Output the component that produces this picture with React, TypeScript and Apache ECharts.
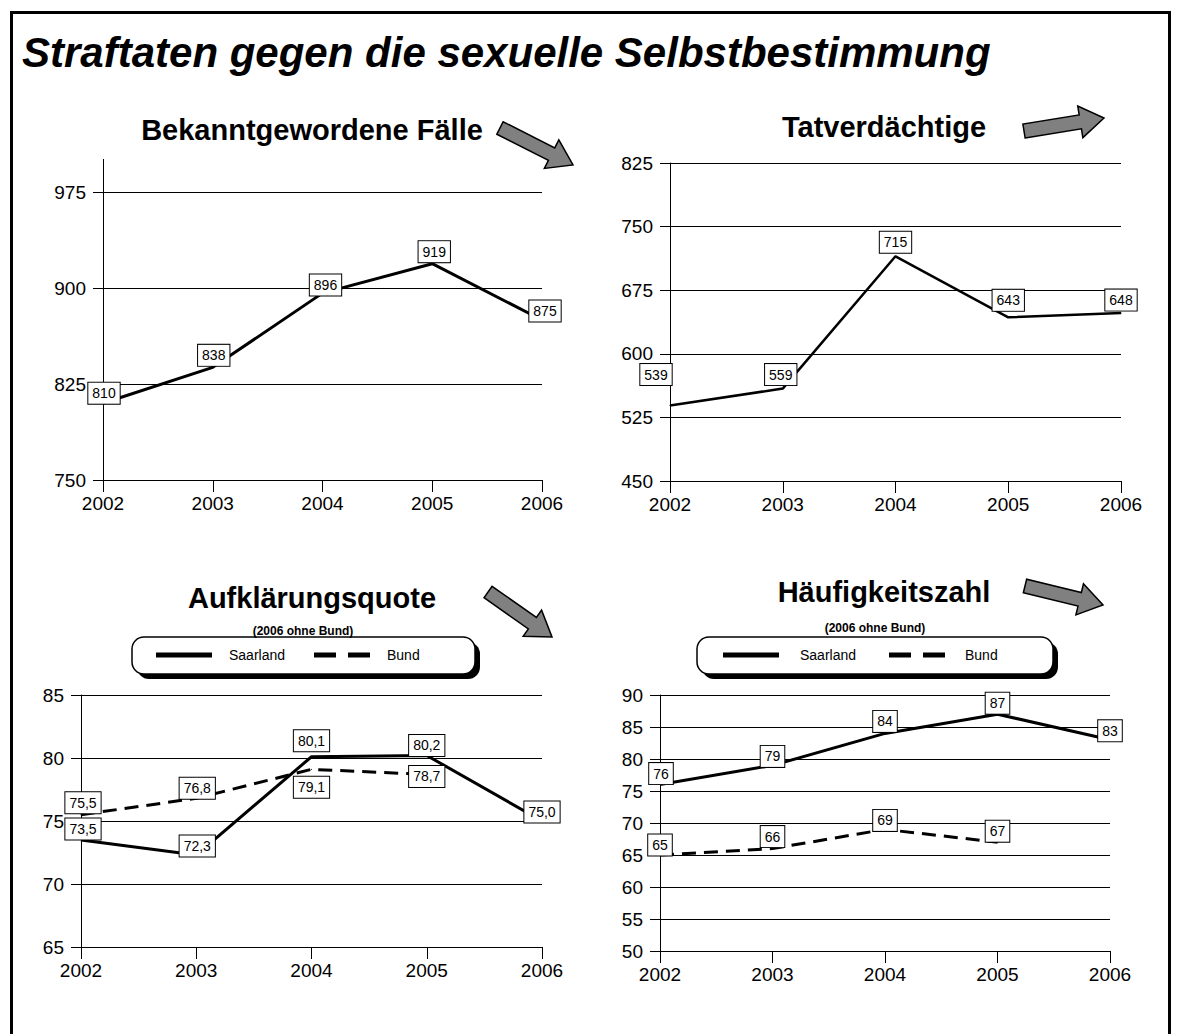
import React, { useEffect, useRef } from 'react';
import * as echarts from 'echarts';

// ---------- data ----------
const years = ['2002', '2003', '2004', '2005', '2006'];

const faelle = [810, 838, 896, 919, 875];
const faelleTicks = [750, 825, 900, 975];

const tatverdaechtige = [539, 559, 715, 643, 648];
const tatTicks = [450, 525, 600, 675, 750, 825];

const aufklSaarland = [73.5, 72.3, 80.1, 80.2, 75.0];
const aufklBund = [75.5, 76.8, 79.1, 78.7, null];
const aufklTicks = [65, 70, 75, 80, 85];

const hzSaarland = [76, 79, 84, 87, 83];
const hzBund = [65, 66, 69, 67, null];
const hzTicks = [50, 55, 60, 65, 70, 75, 80, 85, 90];

// ---------- label offsets (positions only) ----------
const offFaelle = [[1, -10], [1, -12], [3, -8], [2, -12], [3, -9]];
const offTat = [[-14, -31], [-2, -14], [0, -14], [0, -17], [0, -13]];
const offAufS = [[2, -11], [1, -9], [0, -16], [0, -10], [0, -9]];
const offAufB = [[2, -12], [1, -10], [0, 18], [0, 2], [0, 0]];
const offHzS = [[1, -11], [0, -9], [0, -12], [0, -11], [0, -9]];
const offHzB = [[0, -10], [0, -12], [0, -9], [0, -11], [0, 0]];

const FONT = 'Liberation Sans, Arial, sans-serif';

function arrowPts(tx: number, ty: number, hx: number, hy: number, sw = 7, hw = 16, hl = 24) {
  const dx = hx - tx, dy = hy - ty;
  const L = Math.hypot(dx, dy);
  const ux = dx / L, uy = dy / L;
  const nx = -uy, ny = ux;
  const bx = hx - ux * hl, by = hy - uy * hl;
  return [
    [tx + nx * sw, ty + ny * sw],
    [bx + nx * sw, by + ny * sw],
    [bx + nx * hw, by + ny * hw],
    [hx, hy],
    [bx - nx * hw, by - ny * hw],
    [bx - nx * sw, by - ny * sw],
    [tx - nx * sw, ty - ny * sw],
  ];
}

function arrow(tx: number, ty: number, hx: number, hy: number) {
  return {
    type: 'polygon',
    shape: { points: arrowPts(tx, ty, hx, hy) },
    style: { fill: '#808080', stroke: '#000', lineWidth: 1.5 },
    z: 10,
  };
}

function legendBox(x: number, y: number, w: number, h: number, items: any) {
  return [
    { type: 'rect', shape: { x: x + 5, y: y + 5, width: w, height: h, r: 12 }, style: { fill: '#000' }, z: 10 },
    { type: 'rect', shape: { x, y, width: w, height: h, r: 12 }, style: { fill: '#fff', stroke: '#000', lineWidth: 1.5 }, z: 11 },
    ...items,
  ];
}

function legendItems(cy: number, sx: number, tx: number, dx: number, btx: number) {
  return [
    { type: 'line', shape: { x1: sx, y1: cy, x2: sx + 56, y2: cy }, style: { stroke: '#000', lineWidth: 5 }, z: 12 },
    { type: 'text', x: tx, y: cy, style: { text: 'Saarland', fontSize: 14, fontFamily: FONT, fill: '#000', verticalAlign: 'middle' }, z: 12 },
    { type: 'line', shape: { x1: dx, y1: cy, x2: dx + 56, y2: cy }, style: { stroke: '#000', lineWidth: 5, lineDash: [22, 12] }, z: 12 },
    { type: 'text', x: btx, y: cy, style: { text: 'Bund', fontSize: 14, fontFamily: FONT, fill: '#000', verticalAlign: 'middle' }, z: 12 },
  ];
}

function title(text: string, cx: number, cy: number) {
  return {
    type: 'text', x: cx, y: cy,
    style: { text, fontSize: 29, fontWeight: 'bold', fontFamily: FONT, fill: '#000', align: 'center', verticalAlign: 'middle' },
    z: 10,
  };
}

function xAxis(gi: number) {
  return {
    type: 'category', gridIndex: gi, data: years, boundaryGap: false,
    axisLine: { show: true, lineStyle: { color: '#000', width: 1 } },
    axisTick: { show: true, length: 12, lineStyle: { color: '#000' } },
    axisLabel: { color: '#000', fontSize: 19, fontFamily: FONT, margin: 14, interval: 0 },
    splitLine: { show: false },
  };
}

function yAxis(gi: number, ticks: number[]) {
  return {
    type: 'value', gridIndex: gi,
    min: ticks[0], max: ticks[ticks.length - 1], interval: ticks[1] - ticks[0],
    axisLine: { show: true, lineStyle: { color: '#000', width: 1 } },
    axisTick: { show: true, length: 10, lineStyle: { color: '#000' } },
    axisLabel: { color: '#000', fontSize: 19, fontFamily: FONT, margin: 17 },
    splitLine: { show: true, lineStyle: { color: '#000', width: 1 } },
  };
}

function series(name: string, gi: number, values: (number | null)[], offsets: number[][], dashed: boolean, width: number, decimals: number) {
  return {
    type: 'line', name, xAxisIndex: gi, yAxisIndex: gi,
    data: values.map((v, i) => (v == null ? null : { value: v, label: { offset: offsets[i] } })),
    symbol: 'circle', symbolSize: 1, showSymbol: true,
    itemStyle: { color: '#000' },
    lineStyle: { color: '#000', width, type: dashed ? [14, 8] : 'solid' },
    connectNulls: false,
    label: {
      show: true, position: 'inside', color: '#000', fontSize: 14, fontFamily: FONT,
      backgroundColor: '#fff', borderColor: '#000', borderWidth: 1, padding: [4, 4, 3, 4],
      formatter: (p: any) => (decimals > 0 ? Number(p.value).toFixed(decimals).replace('.', ',') : String(p.value)),
    },
    z: 5,
  };
}

export default function App() {
  const ref = useRef<HTMLDivElement>(null);
  useEffect(() => {
    if (!ref.current) return;
    const chart = echarts.init(ref.current, null, { renderer: 'svg' });
    const grids = [
      { left: 103, top: 192, width: 439, height: 288 },
      { left: 670, top: 163, width: 451, height: 318 },
      { left: 81, top: 695, width: 461, height: 252 },
      { left: 660, top: 695, width: 450, height: 256 },
    ];
    chart.setOption({
      animation: false,
      backgroundColor: '#fff',
      textStyle: { fontFamily: FONT },
      grid: grids.map((g) => ({ ...g, containLabel: false })),
      xAxis: [xAxis(0), xAxis(1), xAxis(2), xAxis(3)],
      yAxis: [yAxis(0, faelleTicks), yAxis(1, tatTicks), yAxis(2, aufklTicks), yAxis(3, hzTicks)],
      series: [
        series('Bekanntgewordene Fälle', 0, faelle, offFaelle, false, 3, 0),
        series('Tatverdächtige', 1, tatverdaechtige, offTat, false, 2.5, 0),
        series('Saarland', 2, aufklSaarland, offAufS, false, 3, 1),
        series('Bund', 2, aufklBund, offAufB, true, 3, 1),
        series('Saarland', 3, hzSaarland, offHzS, false, 3, 0),
        series('Bund', 3, hzBund, offHzB, true, 3, 0),
      ],
      graphic: [
        { type: 'rect', shape: { x: 11.5, y: 12.5, width: 1158, height: 1040 }, style: { fill: 'none', stroke: '#000', lineWidth: 3 }, z: 20 },
        {
          type: 'text', x: 22, y: 52,
          style: { text: 'Straftaten gegen die sexuelle Selbstbestimmung', fontSize: 42, fontWeight: 'bold', fontStyle: 'italic', fontFamily: FONT, fill: '#000', verticalAlign: 'middle' },
          z: 10,
        },
        // chart 1 axis line extension above top gridline
        { type: 'line', shape: { x1: 103.5, y1: 159, x2: 103.5, y2: 192 }, style: { stroke: '#000', lineWidth: 1 }, z: 10 },
        title('Bekanntgewordene Fälle', 312, 130),
        title('Tatverdächtige', 884, 127),
        title('Aufklärungsquote', 312, 598),
        title('Häufigkeitszahl', 884, 592),
        arrow(500, 128, 573, 165),
        arrow(1024, 131, 1104, 118),
        arrow(488, 592, 552, 637),
        arrow(1025, 586, 1103, 605),
        { type: 'text', x: 303, y: 631, style: { text: '(2006 ohne Bund)', fontSize: 12, fontWeight: 'bold', fontFamily: FONT, fill: '#000', align: 'center', verticalAlign: 'middle' }, z: 12 },
        { type: 'text', x: 875, y: 628, style: { text: '(2006 ohne Bund)', fontSize: 12, fontWeight: 'bold', fontFamily: FONT, fill: '#000', align: 'center', verticalAlign: 'middle' }, z: 12 },
        ...legendBox(132, 637, 343, 37, legendItems(655, 156, 229, 314, 387)),
        ...legendBox(697, 637, 356, 37, legendItems(655, 723, 800, 889, 965)),
      ],
    });
    return () => chart.dispose();
  }, []);
  return <div ref={ref} style={{ position: 'absolute', left: 0, top: 0, width: 1178, height: 1034, background: '#fff' }} />;
}
